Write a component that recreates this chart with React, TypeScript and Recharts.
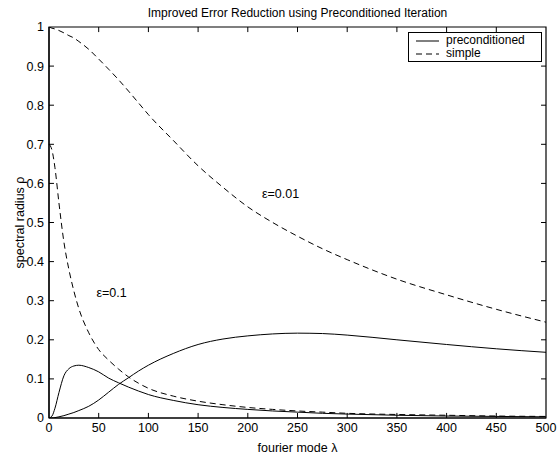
import React from "react";
import {
  LineChart,
  Line,
  XAxis,
  YAxis,
  ReferenceLine,
  ReferenceArea,
  ReferenceDot,
  Label,
} from "recharts";

// fourier mode λ (sample points, denser near 0 where curves bend sharply)
const lambda = [0, 3, 6, 10, 15, 20, 25, 30, 40, 50, 60, 70, 80, 90, 100, 125, 150, 175, 200, 225, 250, 275, 300, 350, 400, 450, 500];

// spectral radius ρ
const simpleEps001 = [1.0, 0.997, 0.995, 0.991, 0.985, 0.978, 0.972, 0.963, 0.943, 0.918, 0.892, 0.865, 0.836, 0.806, 0.776, 0.71, 0.645, 0.59, 0.54, 0.5, 0.465, 0.433, 0.405, 0.355, 0.315, 0.278, 0.245];
const simpleEps01 = [0.7, 0.685, 0.64, 0.55, 0.45, 0.38, 0.325, 0.28, 0.218, 0.175, 0.148, 0.125, 0.105, 0.089, 0.076, 0.056, 0.043, 0.034, 0.027, 0.022, 0.018, 0.015, 0.012, 0.009, 0.007, 0.005, 0.004];
const precEps01 = [0, 0.005, 0.025, 0.065, 0.108, 0.126, 0.133, 0.135, 0.129, 0.118, 0.102, 0.09, 0.079, 0.069, 0.06, 0.045, 0.034, 0.027, 0.022, 0.018, 0.015, 0.012, 0.01, 0.007, 0.005, 0.004, 0.003];
const precEps001 = [0, 0, 0.001, 0.003, 0.006, 0.01, 0.014, 0.019, 0.03, 0.046, 0.066, 0.086, 0.103, 0.12, 0.135, 0.165, 0.188, 0.202, 0.21, 0.215, 0.217, 0.216, 0.212, 0.2, 0.188, 0.177, 0.168];

const xTicks = [0, 50, 100, 150, 200, 250, 300, 350, 400, 450, 500];
const yTicks = [0, 0.1, 0.2, 0.3, 0.4, 0.5, 0.6, 0.7, 0.8, 0.9, 1];

const legendItems = [
  { name: "preconditioned", dash: undefined },
  { name: "simple", dash: "6 4" },
];

const data = lambda.map((l, i) => ({
  lambda: l,
  simple001: simpleEps001[i],
  simple01: simpleEps01[i],
  prec01: precEps01[i],
  prec001: precEps001[i],
}));

const FONT = '"Liberation Sans", Arial, Helvetica, sans-serif';
const INK = "#000";
const DASH = "6 4";
// inward tick length, in data units (~5px)
const TX = 5;
const TY = 0.013;

export default function App() {
  return (
    <div style={{ position: "absolute", left: 0, top: 0, width: 557, height: 457, background: "#fff", fontFamily: FONT }}>
      <div
        style={{
          position: "absolute",
          left: 49,
          width: 497,
          top: 5,
          textAlign: "center",
          fontSize: 12,
          lineHeight: "16px",
          color: INK,
        }}
      >
        Improved Error Reduction using Preconditioned Iteration
      </div>

      <LineChart
        width={557}
        height={457}
        data={data}
        margin={{ top: 27, right: 11, bottom: 0, left: 0 }}
        style={{ fontFamily: FONT }}
      >
        <XAxis
          dataKey="lambda"
          type="number"
          domain={[0, 500]}
          ticks={xTicks}
          interval={0}
          height={39}
          tickSize={0}
          tickMargin={5}
          axisLine={{ stroke: INK, strokeWidth: 1.2 }}
          tickLine={false}
          tick={{ fill: INK, fontSize: 12.5 }}
        >
          <Label value="fourier mode λ" position="insideBottom" offset={5} fill={INK} fontSize={12.5} />
        </XAxis>
        <YAxis
          type="number"
          domain={[0, 1]}
          ticks={yTicks}
          interval={0}
          width={49}
          tickSize={0}
          tickMargin={5}
          tickFormatter={(v: number) => String(+v.toFixed(1))}
          axisLine={{ stroke: INK, strokeWidth: 1.2 }}
          tickLine={false}
          tick={{ fill: INK, fontSize: 12.5 }}
          allowDataOverflow
        >
          <Label
            content={({ viewBox }: any) => {
              const cx = viewBox.x + 20;
              const cy = viewBox.y + viewBox.height / 2;
              return (
                <text
                  x={cx}
                  y={cy}
                  transform={`rotate(-90, ${cx}, ${cy})`}
                  textAnchor="middle"
                  dominantBaseline="central"
                  fill={INK}
                  fontSize={12.5}
                  fontFamily={FONT}
                >
                  spectral radius ρ
                </text>
              );
            }}
          />
        </YAxis>

        <ReferenceArea x1={0} x2={500} y1={0} y2={1} fill="none" stroke={INK} strokeWidth={1.2} ifOverflow="visible" />

        {xTicks.slice(1, -1).map((t) => (
          <ReferenceLine key={`xb${t}`} segment={[{ x: t, y: 0 }, { x: t, y: TY }]} stroke={INK} />
        ))}
        {xTicks.slice(1, -1).map((t) => (
          <ReferenceLine key={`xt${t}`} segment={[{ x: t, y: 1 }, { x: t, y: 1 - TY }]} stroke={INK} />
        ))}
        {yTicks.slice(1, -1).map((t) => (
          <ReferenceLine key={`yl${t}`} segment={[{ x: 0, y: t }, { x: TX, y: t }]} stroke={INK} />
        ))}
        {yTicks.slice(1, -1).map((t) => (
          <ReferenceLine key={`yr${t}`} segment={[{ x: 500, y: t }, { x: 500 - TX, y: t }]} stroke={INK} />
        ))}

        <Line dataKey="simple001" type="monotone" stroke={INK} strokeWidth={1} strokeDasharray={DASH} dot={false} isAnimationActive={false} />
        <Line dataKey="simple01" type="monotone" stroke={INK} strokeWidth={1} strokeDasharray={DASH} dot={false} isAnimationActive={false} />
        <Line dataKey="prec001" type="monotone" stroke={INK} strokeWidth={1} dot={false} isAnimationActive={false} />
        <Line dataKey="prec01" type="monotone" stroke={INK} strokeWidth={1} dot={false} isAnimationActive={false} />

        <ReferenceDot x={233} y={0.575} r={0} fill="none" stroke="none" label={{ value: "ε=0.01", position: "center", fill: INK, fontSize: 12.5 }} />
        <ReferenceDot x={63} y={0.32} r={0} fill="none" stroke="none" label={{ value: "ε=0.1", position: "center", fill: INK, fontSize: 12.5 }} />
      </LineChart>

      <div
        style={{
          position: "absolute",
          left: 408,
          top: 32,
          width: 132,
          height: 27,
          border: "1px solid #000",
          background: "#fff",
          padding: "1px 0 0 0",
          boxSizing: "content-box",
          fontSize: 12,
          color: INK,
        }}
      >
        {legendItems.map((it) => (
          <div key={it.name} style={{ display: "flex", alignItems: "center", height: 13, lineHeight: "13px" }}>
            <svg width={37} height={10} style={{ flex: "none" }}>
              <line x1={7} x2={30} y1={5} y2={5} stroke={INK} strokeWidth={1} strokeDasharray={it.dash} />
            </svg>
            <span>{it.name}</span>
          </div>
        ))}
      </div>
    </div>
  );
}
